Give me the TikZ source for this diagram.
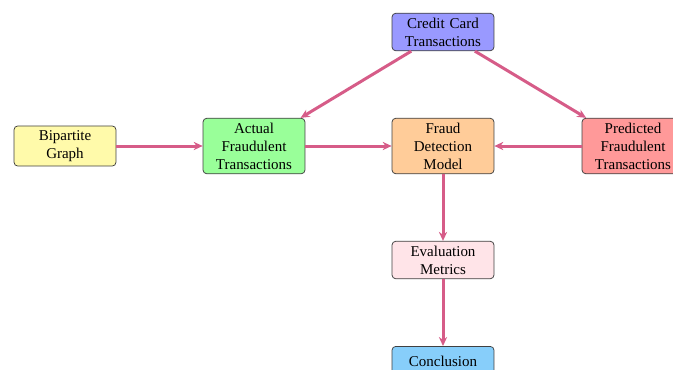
\documentclass[tikz,border=0pt]{standalone}
\usepackage{fontspec}
\setmainfont{Liberation Serif}
\usetikzlibrary{arrows.meta}
\definecolor{arrowc}{RGB}{214,92,136}
\definecolor{cblue}{RGB}{153,153,255}
\definecolor{cgreen}{RGB}{153,255,153}
\definecolor{corange}{RGB}{255,204,153}
\definecolor{cred}{RGB}{255,153,153}
\definecolor{cyellow}{RGB}{255,250,170}
\definecolor{cpink}{RGB}{255,228,232}
\definecolor{ccyan}{RGB}{135,206,250}
\tikzset{
  box/.style={draw=black!75, rounded corners=2.5pt, text width=62pt, align=center,
    inner xsep=3pt, inner ysep=3pt, font=\fontsize{10}{12}\selectfont, line width=0.5pt},
  conn/.style={draw=arrowc, line width=2pt, -{Stealth[length=6pt,width=5.5pt]}}
}
\begin{document}
\begin{tikzpicture}[x=0.667pt,y=-0.667pt]
\useasboundingbox (0,0) rectangle (673,369);
\clip (0,0) rectangle (673,369);
\node[box, fill=cblue] (cc) at (443,32) {Credit Card\\Transactions};
\node[box, fill=cyellow] (bg) at (65,146) {Bipartite\\Graph};
\node[box, fill=cgreen] (af) at (254,146) {Actual\\Fraudulent\\Transactions};
\node[box, fill=corange] (fd) at (443,146) {Fraud\\Detection\\Model};
\node[box, fill=cred] (pf) at (633,146) {Predicted\\Fraudulent\\Transactions};
\node[box, fill=cpink] (em) at (443,260) {Evaluation\\Metrics};
\node[box, fill=ccyan, anchor=north, minimum height=20pt] (co) at (443,346) {Conclusion};
\draw[conn] (cc) -- (af);
\draw[conn] (cc) -- (pf);
\draw[conn] (bg) -- (af);
\draw[conn] (af) -- (fd);
\draw[conn] (pf) -- (fd);
\draw[conn] (fd) -- (em);
\draw[conn] (em) -- (co);
\end{tikzpicture}
\end{document}
